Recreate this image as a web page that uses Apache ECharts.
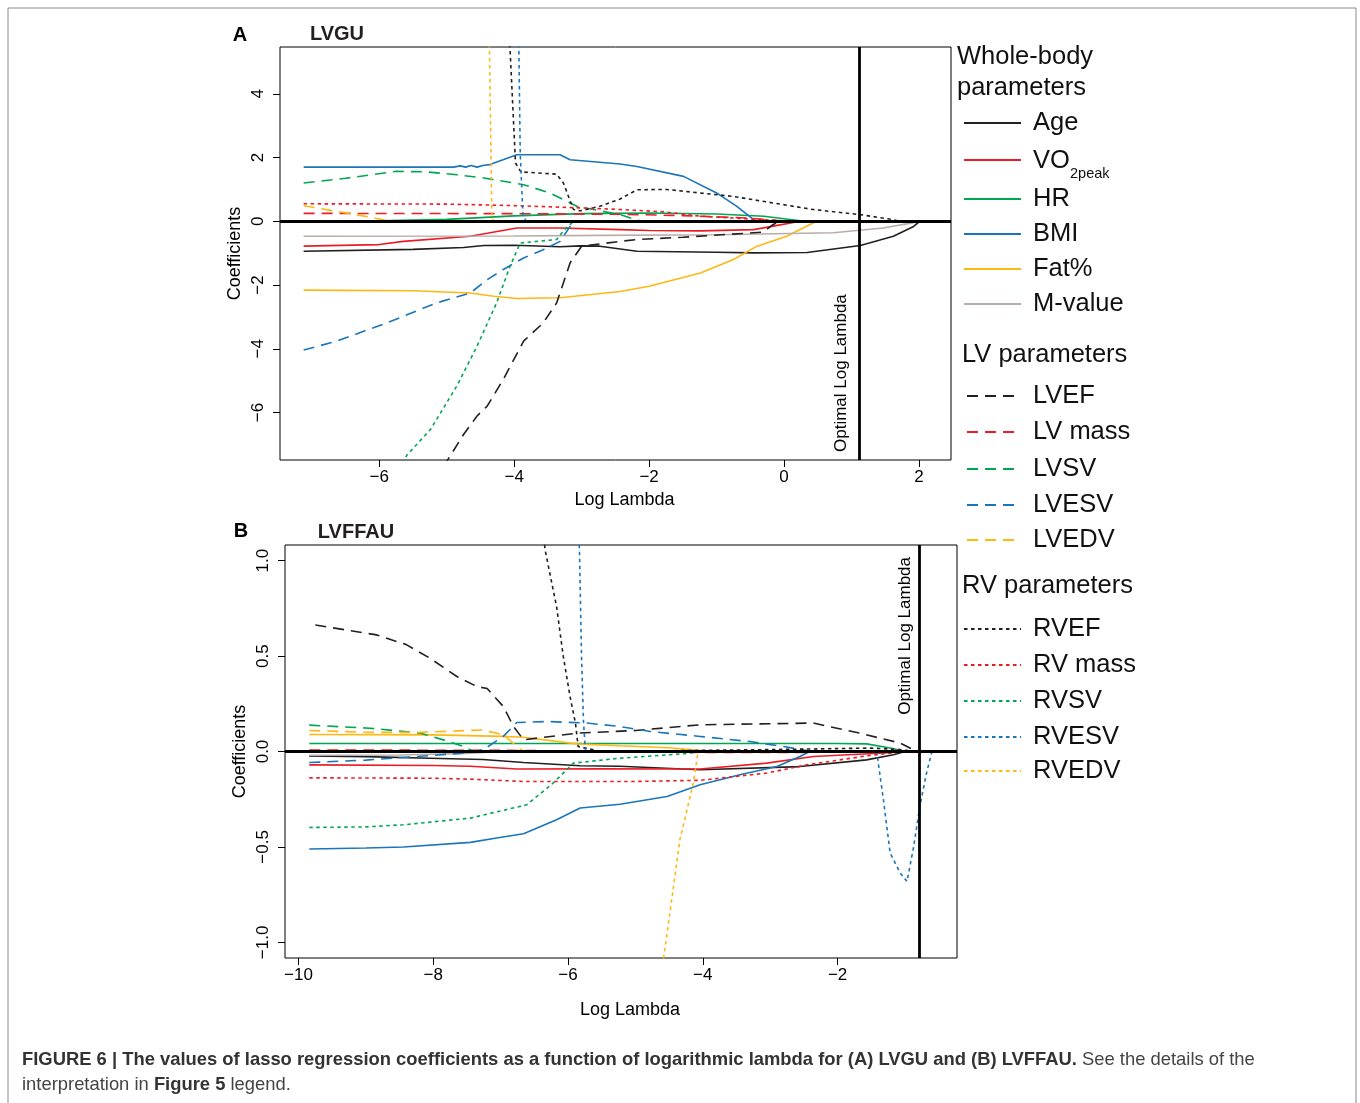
<!DOCTYPE html>
<html>
<head>
<meta charset="utf-8">
<script src="https://cdn.jsdelivr.net/npm/echarts@6/dist/echarts.min.js"></script>
<style>
  html, body { margin: 0; padding: 0; background: #fff; }
  #chart { width: 1360px; height: 1103px; }
</style>
</head>
<body>
<div id="chart"></div>
<script>
// ---------------- Lasso coefficient paths: [log lambda, coefficient] ----------------
// Panel A — LVGU
const A_AGE   = [[-7.12,-0.94],[-5.5,-0.88],[-4.75,-0.82],[-4.45,-0.76],[-4.0,-0.75],[-3.32,-0.80],[-3.02,-0.77],[-2.73,-0.78],[-2.18,-0.94],[-1.0,-0.97],[-0.45,-0.99],[0.34,-0.98],[1.13,-0.76],[1.62,-0.47],[1.92,-0.16],[2.01,0]];
const A_VO2   = [[-7.12,-0.78],[-6.0,-0.73],[-5.64,-0.63],[-4.65,-0.47],[-3.96,-0.21],[-3.32,-0.21],[-2.43,-0.26],[-2.0,-0.29],[-1.24,-0.30],[-0.45,-0.26],[-0.16,-0.15],[0.24,0]];
const A_HR    = [[-7.12,0.01],[-6.0,0.02],[-5.0,0.06],[-4.0,0.17],[-3.0,0.24],[-2.0,0.26],[-1.0,0.23],[-0.3,0.16],[0.3,0]];
const A_BMI   = [[-7.12,1.70],[-6.0,1.70],[-4.9,1.70],[-4.8,1.74],[-4.72,1.70],[-4.64,1.75],[-4.55,1.70],[-4.45,1.76],[-4.36,1.78],[-3.96,2.09],[-3.32,2.09],[-3.17,1.93],[-2.43,1.80],[-2.18,1.72],[-1.49,1.41],[-1.0,0.89],[-0.70,0.47],[-0.45,0.05],[-0.40,0]];
const A_FAT   = [[-7.12,-2.16],[-5.5,-2.18],[-4.65,-2.25],[-4.3,-2.35],[-3.96,-2.42],[-3.32,-2.40],[-2.43,-2.20],[-2.0,-2.04],[-1.24,-1.62],[-0.75,-1.20],[-0.40,-0.78],[0.04,-0.47],[0.48,0]];
const A_MVAL  = [[-7.12,-0.47],[-4.0,-0.46],[-2.7,-0.44],[-1.0,-0.42],[0.73,-0.36],[1.47,-0.21],[1.9,-0.05],[2.01,0]];
const A_LVEF  = [[-5.05,-7.7],[-4.95,-7.37],[-4.75,-6.69],[-4.55,-6.11],[-4.40,-5.8],[-4.16,-4.96],[-3.86,-3.76],[-3.57,-3.19],[-3.37,-2.56],[-3.17,-1.30],[-3.0,-0.78],[-2.43,-0.63],[-2.18,-0.57],[-1.5,-0.50],[-0.31,-0.34],[-0.16,-0.10],[-0.06,0]];
const A_LVMASS= [[-7.12,0.25],[-4.0,0.24],[-2.43,0.22],[-1.5,0.18],[-0.5,0.10],[0.0,0]];
const A_LVSV  = [[-7.12,1.20],[-6.5,1.35],[-5.74,1.57],[-5.29,1.55],[-4.85,1.46],[-4.45,1.36],[-3.86,1.15],[-3.47,0.89],[-3.07,0.47],[-2.43,0.21],[-2.2,0.05],[-2.1,0]];
const A_LVESV = [[-7.12,-4.04],[-6.63,-3.76],[-5.89,-3.19],[-5.15,-2.56],[-4.65,-2.25],[-4.40,-1.83],[-4.16,-1.51],[-3.86,-1.15],[-3.57,-0.89],[-3.32,-0.63],[-3.17,-0.16],[-3.07,0]];
const A_LVEDV = [[-7.12,0.49],[-6.6,0.30],[-6.1,0.12],[-5.85,0]];
const A_RVEF  = [[-4.09,6.0],[-4.06,5.38],[-3.98,1.83],[-3.9,1.55],[-3.37,1.48],[-3.27,1.20],[-3.12,0.37],[-3.02,0.33],[-2.73,0.47],[-2.43,0.70],[-2.18,0.99],[-1.74,1.0],[-0.75,0.78],[0.43,0.37],[1.13,0.21],[1.62,0.05],[1.72,0]];
const A_RVMASS= [[-7.12,0.55],[-5.0,0.54],[-3.96,0.49],[-3.0,0.42],[-2.43,0.37],[-1.8,0.30],[-1.24,0.16],[-0.3,0.05],[0.1,0]];
const A_RVSV  = [[-5.65,-7.6],[-5.59,-7.34],[-5.24,-6.53],[-4.85,-5.17],[-4.55,-3.92],[-4.26,-2.56],[-4.06,-1.41],[-3.91,-0.68],[-3.37,-0.57],[-3.27,-0.30],[-3.12,0]];
const A_RVESV = [[-3.95,6.0],[-3.93,5.38],[-3.91,2.15],[-3.87,0.21],[-3.82,0]];
const A_RVEDV = [[-4.37,6.0],[-4.33,0.10],[-4.30,0]];

// Panel B — LVFFAU
const B_AGE   = [[-9.84,-0.023],[-9.0,-0.027],[-8.05,-0.035],[-7.26,-0.042],[-6.66,-0.058],[-5.82,-0.075],[-5.23,-0.077],[-4.04,-0.096],[-2.56,-0.079],[-1.57,-0.044],[-1.17,-0.017],[-1.0,0]];
const B_VO2   = [[-9.84,-0.07],[-8.0,-0.073],[-7.45,-0.077],[-6.76,-0.092],[-5.5,-0.09],[-4.04,-0.092],[-3.05,-0.061],[-2.36,-0.026],[-1.32,-0.008],[-0.95,0]];
const B_HR    = [[-9.84,0.042],[-5.0,0.042],[-2.0,0.042],[-1.57,0.04],[-1.22,0.018],[-0.98,0]];
const B_BMI   = [[-9.84,-0.511],[-9.0,-0.506],[-8.44,-0.50],[-7.45,-0.476],[-7.06,-0.453],[-6.66,-0.431],[-6.17,-0.358],[-5.82,-0.296],[-5.23,-0.276],[-4.53,-0.236],[-4.04,-0.174],[-3.45,-0.122],[-2.90,-0.079],[-2.56,-0.026],[-2.41,0]];
const B_FAT   = [[-9.84,0.089],[-8.0,0.087],[-6.96,0.079],[-6.66,0.075],[-5.87,0.04],[-5.23,0.03],[-4.5,0.02],[-4.04,0.005],[-3.9,0]];
const B_MVAL  = [[-9.84,-0.02],[-8.5,-0.018],[-7.5,-0.01],[-7.0,0]];
const B_LVEF  = [[-9.75,0.663],[-8.84,0.611],[-8.4,0.56],[-8.05,0.489],[-7.65,0.393],[-7.35,0.34],[-7.2,0.33],[-6.96,0.236],[-6.81,0.131],[-6.66,0.061],[-5.87,0.096],[-5.0,0.11],[-4.04,0.14],[-2.36,0.149],[-1.67,0.096],[-1.07,0.044],[-0.88,0.01],[-0.8,0]];
const B_LVMASS= [[-9.84,0.008],[-7.0,0.006],[-5.0,0.0],[-4.0,-0.005],[-2.5,-0.005],[-1.5,0]];
const B_LVSV  = [[-9.84,0.138],[-8.94,0.122],[-8.19,0.096],[-7.85,0.061],[-7.55,0.026],[-7.4,0]];
const B_LVESV = [[-9.84,-0.058],[-9.0,-0.045],[-8.2,-0.025],[-7.6,-0.01],[-7.26,0.009],[-6.96,0.079],[-6.76,0.152],[-6.3,0.157],[-5.72,0.149],[-5.23,0.131],[-4.78,0.105],[-4.04,0.079],[-3.30,0.052],[-2.80,0.026],[-2.46,0.005],[-2.4,0]];
const B_LVEDV = [[-9.84,0.11],[-8.94,0.10],[-8.2,0.10],[-7.65,0.108],[-7.26,0.113],[-6.96,0.087],[-6.76,0.026],[-6.66,0]];
const B_RVEF  = [[-6.36,1.12],[-6.34,1.056],[-6.17,0.759],[-6.07,0.497],[-5.97,0.288],[-5.89,0.149],[-5.85,0.026],[-5.5,0.0],[-3.0,0.01],[-1.5,0.018],[-1.07,0.01],[-0.85,0]];
const B_RVMASS= [[-9.84,-0.138],[-8.0,-0.14],[-7.45,-0.145],[-6.66,-0.157],[-5.0,-0.157],[-4.04,-0.151],[-3.05,-0.113],[-2.46,-0.07],[-1.57,-0.023],[-1.0,0]];
const B_RVSV  = [[-9.84,-0.398],[-9.0,-0.395],[-8.44,-0.384],[-7.45,-0.349],[-6.61,-0.279],[-6.22,-0.165],[-5.92,-0.061],[-5.23,-0.035],[-4.29,-0.012],[-4.0,0]];
const B_RVESV = [[-5.84,1.12],[-5.83,1.05],[-5.80,0.5],[-5.77,0.15],[-5.74,0],[-1.42,0],[-1.32,-0.253],[-1.22,-0.532],[-1.07,-0.637],[-0.97,-0.681],[-0.87,-0.497],[-0.78,-0.288],[-0.68,-0.113],[-0.60,0]];
const B_RVEDV = [[-4.60,-1.12],[-4.56,-1.03],[-4.34,-0.462],[-4.14,-0.165],[-4.07,0]];

// Optimal log lambda for each model
const OPT_A = 1.107;
const OPT_B = -0.788;

// Axis ticks
const TICKS_AX = [-6, -4, -2, 0, 2];
const TICKS_AY = [-6, -4, -2, 0, 2, 4];
const TICKS_BX = [-10, -8, -6, -4, -2];
const TICKS_BY = [-1, -0.5, 0, 0.5, 1];

// Legend groups
const WHOLE_BODY = ['Age', 'VO2peak', 'HR', 'BMI', 'Fat%', 'M-value'];
const LV_PARAMS  = ['LVEF', 'LV mass', 'LVSV', 'LVESV', 'LVEDV'];
const RV_PARAMS  = ['RVEF', 'RV mass', 'RVSV', 'RVESV', 'RVEDV'];

// ---------------- styling ----------------
const FONT = 'Liberation Sans, Arial, Helvetica, sans-serif';
const C = { black: '#231f20', red: '#ed1c24', green: '#00a651', blue: '#1b75bb', orange: '#fdb813', grey: '#b9ada9' };
const DASH = { solid: 'solid', lv: [11, 7], rv: [3.5, 3.5] };
const STYLE = {
  'Age': [C.black, 'solid'], 'VO2peak': [C.red, 'solid'], 'HR': [C.green, 'solid'],
  'BMI': [C.blue, 'solid'], 'Fat%': [C.orange, 'solid'], 'M-value': [C.grey, 'solid'],
  'LVEF': [C.black, 'lv'], 'LV mass': [C.red, 'lv'], 'LVSV': [C.green, 'lv'], 'LVESV': [C.blue, 'lv'], 'LVEDV': [C.orange, 'lv'],
  'RVEF': [C.black, 'rv'], 'RV mass': [C.red, 'rv'], 'RVSV': [C.green, 'rv'], 'RVESV': [C.blue, 'rv'], 'RVEDV': [C.orange, 'rv']
};

const PANEL_A = [['Age', A_AGE], ['VO2peak', A_VO2], ['HR', A_HR], ['BMI', A_BMI], ['Fat%', A_FAT], ['M-value', A_MVAL],
  ['LVEF', A_LVEF], ['LV mass', A_LVMASS], ['LVSV', A_LVSV], ['LVESV', A_LVESV], ['LVEDV', A_LVEDV],
  ['RVEF', A_RVEF], ['RV mass', A_RVMASS], ['RVSV', A_RVSV], ['RVESV', A_RVESV], ['RVEDV', A_RVEDV]];
const PANEL_B = [['Age', B_AGE], ['VO2peak', B_VO2], ['HR', B_HR], ['BMI', B_BMI], ['Fat%', B_FAT], ['M-value', B_MVAL],
  ['LVEF', B_LVEF], ['LV mass', B_LVMASS], ['LVSV', B_LVSV], ['LVESV', B_LVESV], ['LVEDV', B_LVEDV],
  ['RVEF', B_RVEF], ['RV mass', B_RVMASS], ['RVSV', B_RVSV], ['RVESV', B_RVESV], ['RVEDV', B_RVEDV]];

function pathSeries(name, data, gi) {
  const [color, dash] = STYLE[name];
  return {
    type: 'line', name: name, xAxisIndex: gi, yAxisIndex: gi, data: data,
    symbol: 'none', showSymbol: false, clip: true, silent: true, z: 2,
    lineStyle: { color: color, width: 1.6, type: DASH[dash] }
  };
}

// Reference lines: zero coefficient and the chosen lambda
function refSeries(gi, opt, labelPos, labelDist) {
  return {
    type: 'line', xAxisIndex: gi, yAxisIndex: gi, data: [[opt, 0]],
    symbol: 'none', showSymbol: false, silent: true, z: 5,
    lineStyle: { opacity: 0 },
    markLine: {
      silent: true, symbol: ['none', 'none'], animation: false,
      lineStyle: { color: '#000', width: 2.8, type: 'solid' },
      label: { show: false },
      data: [
        { yAxis: 0 },
        { xAxis: opt, label: { show: true, formatter: 'Optimal Log Lambda', position: labelPos,
          distance: labelDist, fontFamily: FONT, fontSize: 17, color: '#000' } }
      ]
    }
  };
}

const minus = s => String(s).replace('-', '\u2212');

function xAxisCfg(gi, min, max, ticks, nameGap) {
  return {
    type: 'value', gridIndex: gi, min: min, max: max,
    axisLine: { show: false, onZero: false }, splitLine: { show: false },
    axisTick: { show: true, customValues: ticks, length: 7, lineStyle: { color: '#000', width: 1 } },
    axisLabel: { customValues: ticks, formatter: v => minus(v), fontFamily: FONT, fontSize: 17, color: '#000', margin: 9 },
    name: 'Log Lambda', nameLocation: 'middle', nameGap: nameGap,
    nameTextStyle: { fontFamily: FONT, fontSize: 18, color: '#000', padding: [0, 0, 0, 18] }
  };
}
function yAxisCfg(gi, min, max, ticks, fmt) {
  return {
    type: 'value', gridIndex: gi, min: min, max: max,
    axisLine: { show: false, onZero: false }, splitLine: { show: false },
    axisTick: { show: true, customValues: ticks, length: 7, lineStyle: { color: '#000', width: 1 } },
    axisLabel: { customValues: ticks, formatter: fmt, rotate: 90, fontFamily: FONT, fontSize: 17, color: '#000', margin: 13 },
    name: 'Coefficients', nameLocation: 'middle', nameGap: 36, nameRotate: 90,
    nameTextStyle: { fontFamily: FONT, fontSize: 18, color: '#000' }
  };
}

// ---------------- legend and captions (graphic) ----------------
const graphics = [];
graphics.push({ type: 'rect', shape: { x: 8, y: 8, width: 1348, height: 1120 }, style: { fill: 'none', stroke: '#8a8a8a', lineWidth: 1 }, silent: true });

function txt(x, y, text, size, opts) {
  return Object.assign({ type: 'text', x: x, y: y, silent: true,
    style: Object.assign({ text: text, font: (opts && opts.bold ? 'bold ' : '') + size + 'px ' + FONT,
      fill: '#111', textAlign: 'left', textVerticalAlign: 'middle' }, opts && opts.style) });
}
// panel titles
graphics.push(txt(240, 35, 'A', 20, { bold: true, style: { textAlign: 'center', fill: '#000' } }));
graphics.push(txt(337, 34, 'LVGU', 20, { bold: true, style: { textAlign: 'center', fill: '#231f20' } }));
graphics.push(txt(241, 531, 'B', 20, { bold: true, style: { textAlign: 'center', fill: '#000' } }));
graphics.push(txt(356, 532, 'LVFFAU', 20, { bold: true, style: { textAlign: 'center', fill: '#231f20' } }));

// legend
const LEG_SIZE = 25.5;
graphics.push(txt(957, 57, 'Whole-body', LEG_SIZE));
graphics.push(txt(957, 88, 'parameters', LEG_SIZE));
graphics.push(txt(962, 355, 'LV parameters', LEG_SIZE));
graphics.push(txt(962, 586, 'RV parameters', LEG_SIZE));

const LEG_Y_WB = [123, 160, 199, 234, 269, 304];
const LEG_Y_LV = [396, 432, 469, 505, 540];
const LEG_Y_RV = [629, 665, 701, 737, 771];
function legendRow(name, y) {
  const [color, dash] = STYLE[name];
  const x1 = dash === 'lv' ? 967 : 964;
  graphics.push({ type: 'line', silent: true, shape: { x1: x1, y1: y, x2: 1021, y2: y },
    style: { stroke: color, lineWidth: 1.8, lineDash: dash === 'solid' ? null : DASH[dash] } });
  if (name === 'VO2peak') {
    graphics.push(txt(1033, y + 1, 'VO', LEG_SIZE));
    graphics.push(txt(1070, y + 14, '2peak', 14.5));
  } else {
    graphics.push(txt(1033, y, name, LEG_SIZE));
  }
}
WHOLE_BODY.forEach((n, i) => legendRow(n, LEG_Y_WB[i]));
LV_PARAMS.forEach((n, i) => legendRow(n, LEG_Y_LV[i]));
RV_PARAMS.forEach((n, i) => legendRow(n, LEG_Y_RV[i]));

// figure caption
const CAP_RICH = {
  b: { fontFamily: FONT, fontSize: 18.4, fontWeight: 'bold', fill: '#333' },
  n: { fontFamily: FONT, fontSize: 18.4, fill: '#444' }
};
graphics.push({ type: 'text', x: 22, y: 1060, silent: true, style: {
  text: '{b|FIGURE 6 | The values of lasso regression coefficients as a function of logarithmic lambda for (A) LVGU and (B) LVFFAU.}{n| See the details of the}',
  rich: CAP_RICH, textAlign: 'left', textVerticalAlign: 'middle' } });
graphics.push({ type: 'text', x: 22, y: 1085, silent: true, style: {
  text: '{n|interpretation in }{b|Figure 5}{n| legend.}',
  rich: CAP_RICH, textAlign: 'left', textVerticalAlign: 'middle' } });

// ---------------- chart ----------------
const option = {
  animation: false,
  backgroundColor: '#fff',
  grid: [
    { left: 280, top: 47, width: 671, height: 413, show: true, borderColor: '#000', borderWidth: 1, backgroundColor: 'transparent' },
    { left: 285, top: 545, width: 672, height: 413, show: true, borderColor: '#000', borderWidth: 1, backgroundColor: 'transparent' }
  ],
  xAxis: [
    xAxisCfg(0, -7.47, 2.474, TICKS_AX, 31),
    xAxisCfg(1, -10.2, -0.228, TICKS_BX, 43)
  ],
  yAxis: [
    yAxisCfg(0, -7.49, 5.47, TICKS_AY, v => minus(v)),
    yAxisCfg(1, -1.082, 1.082, TICKS_BY, v => (v < 0 ? '\u2212' : '') + Math.abs(v).toFixed(1))
  ],
  series: [
    ...PANEL_A.map(([n, d]) => pathSeries(n, d, 0)),
    ...PANEL_B.map(([n, d]) => pathSeries(n, d, 1)),
    refSeries(0, OPT_A, 'insideStartTop', [8, 9]),
    refSeries(1, OPT_B, 'insideEndTop', [12, 5])
  ],
  graphic: graphics
};

const chart = echarts.init(document.getElementById('chart'), null, { renderer: 'canvas' });
chart.setOption(option);
</script>
</body>
</html>
